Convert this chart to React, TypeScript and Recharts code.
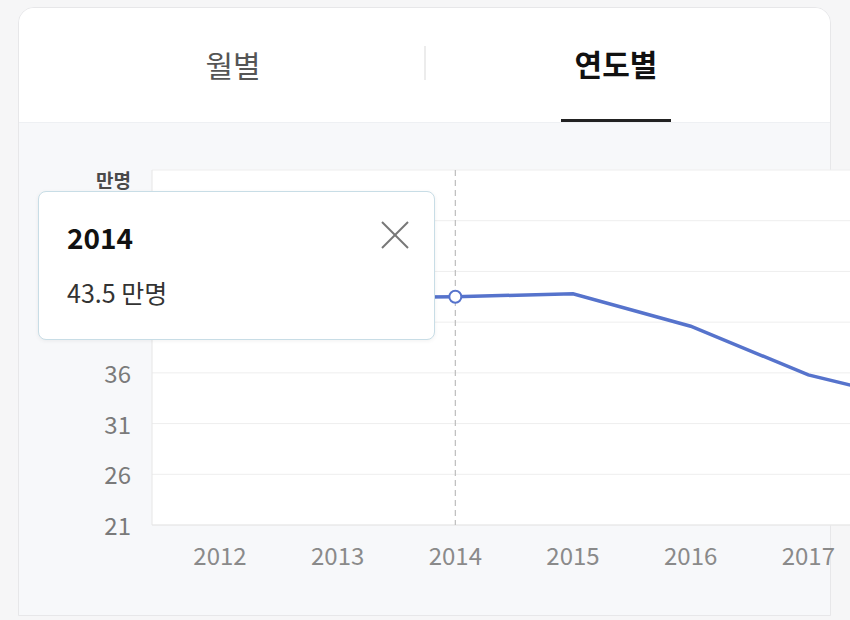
import React from 'react';
import { LineChart, Line, XAxis, YAxis, CartesianGrid, Tooltip } from 'recharts';

const years = ['2012', '2013', '2014', '2015', '2016', '2017', '2018'];
const visitors = [43.0, 43.4, 43.5, 43.8, 40.6, 35.8, 33.0];
const yTicks = [21, 26, 31, 36, 41, 46, 51, 56];
const unitLabel = '만명';
const tabLabels = ['월별', '연도별'];

const data = years.map((y, i) => ({ year: y, value: visitors[i] }));

const FONT = '"Noto Sans CJK KR", "Noto Sans", sans-serif';
const LINE_COLOR = '#5673cc';

const YTick = (props: any) => {
  const { x, y, payload } = props;
  if (payload.value === yTicks[yTicks.length - 1]) {
    return (
      <text x={x} y={y} dy={18} textAnchor="end" fill="#4a4a4a" fontSize={19} fontWeight={700} fontFamily={FONT}>
        {unitLabel}
      </text>
    );
  }
  return (
    <text x={x} y={y} dy={10} textAnchor="end" fill="#7a7a7a" fontSize={24} fontFamily={FONT}>
      {payload.value}
    </text>
  );
};

const XTick = (props: any) => {
  const { x, y, payload } = props;
  return (
    <text x={x} y={y} dy={34} textAnchor="middle" fill="#8a8a8a" fontSize={24} fontFamily={FONT}>
      {payload.value}
    </text>
  );
};

const TipContent = (props: any) => {
  const { active, payload, label } = props;
  if (!active || !payload || !payload.length) return null;
  return (
    <div
      style={{
        width: 397,
        height: 149,
        boxSizing: 'border-box',
        background: '#fff',
        border: '1.5px solid #c8dde6',
        borderRadius: 8,
        boxShadow: '0 1px 4px rgba(0,0,0,0.06)',
        position: 'relative',
        fontFamily: FONT,
      }}
    >
      <div style={{ position: 'absolute', left: 28, top: 26, fontSize: 28, fontWeight: 700, color: '#111', lineHeight: '38px' }}>
        {label}
      </div>
      <div style={{ position: 'absolute', left: 28, top: 83, fontSize: 25, color: '#333', lineHeight: '34px' }}>
        {payload[0].value} {unitLabel}
      </div>
      <svg style={{ position: 'absolute', left: 342, top: 29 }} width={28} height={28}>
        <line x1={1} y1={1} x2={27} y2={27} stroke="#777" strokeWidth={2} />
        <line x1={27} y1={1} x2={1} y2={27} stroke="#777" strokeWidth={2} />
      </svg>
    </div>
  );
};

export default function App() {
  return (
    <div
      style={{
        position: 'absolute',
        left: 0,
        top: 0,
        width: 850,
        height: 620,
        overflow: 'hidden',
        background: '#f6f6f7',
        fontFamily: FONT,
      }}
    >
      {/* card */}
      <div
        style={{
          position: 'absolute',
          left: 18,
          top: 7,
          width: 813,
          height: 609,
          boxSizing: 'border-box',
          border: '1.5px solid #e7e7e9',
          borderRadius: '16px 16px 0 0',
          background: '#f7f8fa',
          overflow: 'hidden',
        }}
      >
        <div
          style={{
            position: 'absolute',
            left: 0,
            top: 0,
            width: '100%',
            height: 114,
            background: '#fff',
            borderBottom: '1px solid #eef0f3',
          }}
        />
      </div>
      {/* tabs */}
      <div
        style={{
          position: 'absolute',
          left: 133,
          width: 200,
          top: 43,
          textAlign: 'center',
          fontSize: 30,
          color: '#555',
          lineHeight: '42px',
        }}
      >
        {tabLabels[0]}
      </div>
      <div style={{ position: 'absolute', left: 424, top: 46, width: 1.5, height: 34, background: '#ececec' }} />
      <div
        style={{
          position: 'absolute',
          left: 516,
          width: 200,
          top: 42,
          textAlign: 'center',
          fontSize: 30,
          fontWeight: 700,
          color: '#111',
          lineHeight: '42px',
        }}
      >
        {tabLabels[1]}
      </div>
      <div style={{ position: 'absolute', left: 561, top: 119, width: 110, height: 3, background: '#222' }} />
      {/* chart */}
      <div style={{ position: 'absolute', left: 0, top: 122 }}>
        <LineChart width={994} height={490} data={data} margin={{ top: 48, right: 0, bottom: 47, left: 92 }}>
          <CartesianGrid vertical={false} stroke="#eeeeee" fill="#ffffff" />
          <XAxis
            dataKey="year"
            padding={{ left: 68, right: 68 }}
            axisLine={{ stroke: '#e6e6e6' }}
            tickLine={false}
            tickMargin={0}
            height={40}
            tick={<XTick />}
            interval={0}
          />
          <YAxis
            domain={[21, 56]}
            ticks={yTicks}
            width={60}
            axisLine={{ stroke: '#e6e6e6' }}
            tickLine={false}
            tickMargin={15}
            tick={<YTick />}
            interval={0}
          />
          <Tooltip
            defaultIndex={2}
            active={true}
            position={{ x: 38, y: 69 }}
            content={<TipContent />}
            cursor={{ stroke: '#bdbdbd', strokeWidth: 1.2, strokeDasharray: '6 4' }}
            isAnimationActive={false}
            wrapperStyle={{ outline: 'none' }}
          />
          <Line
            type="linear"
            dataKey="value"
            stroke={LINE_COLOR}
            strokeWidth={3.5}
            dot={false}
            activeDot={{ r: 6, fill: '#fff', stroke: LINE_COLOR, strokeWidth: 2 }}
            isAnimationActive={false}
          />
        </LineChart>
      </div>
    </div>
  );
}
